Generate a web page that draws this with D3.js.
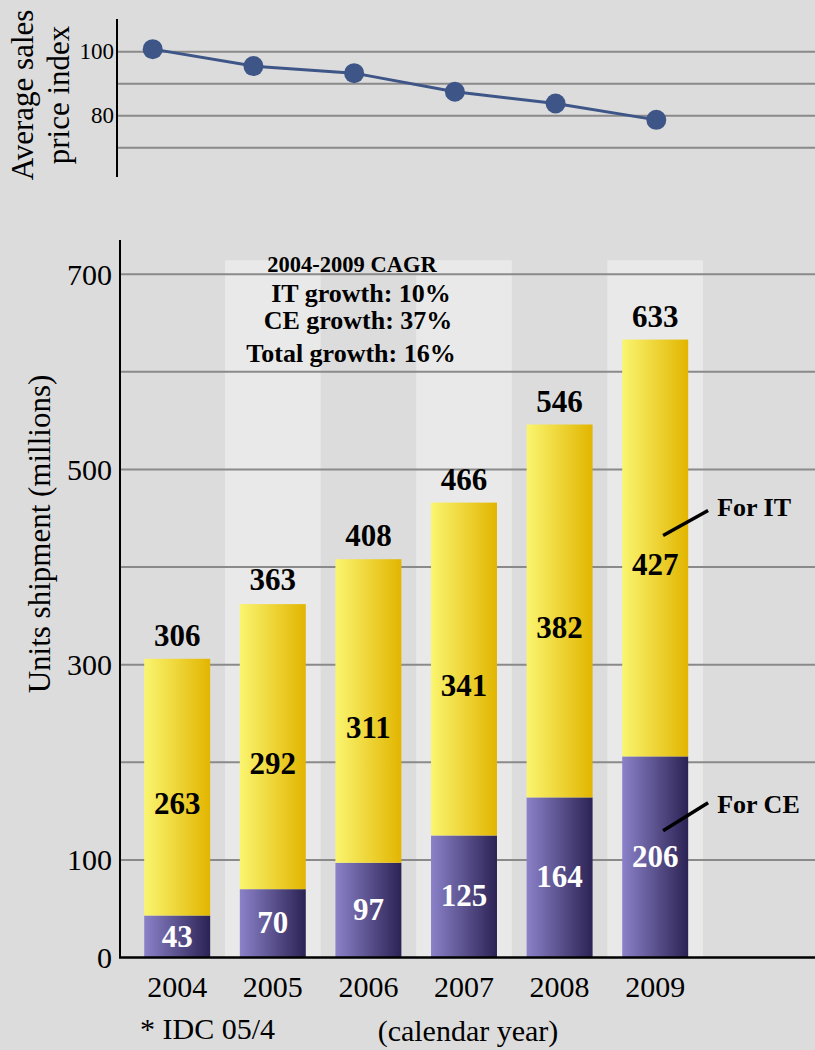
<!DOCTYPE html>
<html>
<head>
<meta charset="utf-8">
<script src="https://cdn.jsdelivr.net/npm/d3@7"></script>
<style>
  html, body { margin: 0; padding: 0; background: #dcdcdc; }
  svg { display: block; }
</style>
</head>
<body>
<svg id="chart" width="815" height="1050"></svg>
<script>
// ---- data ----
const years = ["2004", "2005", "2006", "2007", "2008", "2009"];
const priceIndex = [100.8, 95.5, 93.3, 87.5, 83.8, 78.7];
const ceUnits = [43, 70, 97, 125, 164, 206];
const itUnits = [263, 292, 311, 341, 382, 427];
const totalUnits = [306, 363, 408, 466, 546, 633];
const unitTicks = [0, 100, 300, 500, 700];
const unitGrid = [100, 200, 300, 400, 500, 600, 700];
const priceTicks = [100, 80];
const priceGrid = [100, 90, 80, 70];
const cagrLines = ["2004-2009 CAGR", "IT growth: 10%", "CE growth: 37%", "Total growth: 16%"];

const W = 815;
const serif = "'Liberation Serif', 'Times New Roman', Times, serif";
const svg = d3.select("#chart").style("font-family", serif);

// gradients for the stacked segments
const defs = svg.append("defs");
function hGrad(id, c0, c1) {
  const g = defs.append("linearGradient").attr("id", id)
    .attr("x1", "0%").attr("x2", "100%").attr("y1", "0%").attr("y2", "0%");
  g.append("stop").attr("offset", "0%").attr("stop-color", c0);
  g.append("stop").attr("offset", "100%").attr("stop-color", c1);
}
hGrad("gradIT", "#faf570", "#e2b500");
hGrad("gradCE", "#8b81c9", "#2b2354");

// ================= price index panel =================
const pLeft = 117;
const px = d3.scalePoint().domain(years).range([152.7, 656.3]);
const py = d3.scaleLinear().domain([70, 100]).range([147.7, 51.7]);

svg.append("g").selectAll("line").data(priceGrid).join("line")
  .attr("x1", pLeft).attr("x2", W)
  .attr("y1", d => py(d)).attr("y2", d => py(d))
  .attr("stroke", "#8a8a8a").attr("stroke-width", 2);

svg.append("line").attr("x1", pLeft).attr("x2", pLeft)
  .attr("y1", 19).attr("y2", 177).attr("stroke", "#000").attr("stroke-width", 2);

svg.append("g").selectAll("text").data(priceTicks).join("text")
  .attr("x", pLeft - 3).attr("y", d => py(d)).attr("dy", "0.33em")
  .attr("text-anchor", "end").attr("font-size", 23).text(d => d);

const priceLabel = svg.append("text").attr("text-anchor", "middle")
  .attr("font-size", 31).attr("transform", "translate(0,95) rotate(-90)");
priceLabel.append("tspan").attr("x", 0).attr("y", 33).text("Average sales");
priceLabel.append("tspan").attr("x", 0).attr("y", 69).text("price index");

const priceData = years.map((y, i) => ({ year: y, v: priceIndex[i] }));
svg.append("path").datum(priceData)
  .attr("fill", "none").attr("stroke", "#3e5587").attr("stroke-width", 3)
  .attr("d", d3.line().x(d => px(d.year)).y(d => py(d.v)));
svg.append("g").selectAll("circle").data(priceData).join("circle")
  .attr("cx", d => px(d.year)).attr("cy", d => py(d.v)).attr("r", 10)
  .attr("fill", "#3e5587");

// ================= unit shipment panel =================
const uLeft = 120;
const x = d3.scaleBand().domain(years).range([129.4, 703])
  .paddingInner(0.31).paddingOuter(0.155);
const y = d3.scaleLinear().domain([0, 735]).range([957.5, 240]);
const step = x.step();
const bw = x.bandwidth();

// alternating light column stripes
svg.append("g").selectAll("rect").data(years.filter((d, i) => i % 2 === 1)).join("rect")
  .attr("x", d => x(d) - (step - bw) / 2).attr("width", step)
  .attr("y", y(700) - 14).attr("height", y(0) - y(700) + 14)
  .attr("fill", "#e9e9e9");

svg.append("g").selectAll("line").data(unitGrid).join("line")
  .attr("x1", uLeft).attr("x2", W)
  .attr("y1", d => y(d)).attr("y2", d => y(d))
  .attr("stroke", "#8a8a8a").attr("stroke-width", 2);

// stacked bars
const rows = years.map((yr, i) => ({ year: yr, ce: ceUnits[i], it: itUnits[i], total: totalUnits[i] }));
const stack = d3.stack().keys(["ce", "it"])(rows);
const fills = { ce: "url(#gradCE)", it: "url(#gradIT)" };

svg.append("g").selectAll("g").data(stack).join("g")
  .attr("fill", s => fills[s.key])
  .selectAll("rect").data(s => s).join("rect")
  .attr("x", d => x(d.data.year)).attr("width", bw)
  .attr("y", d => y(d[1])).attr("height", d => y(d[0]) - y(d[1]));

// axes lines
svg.append("line").attr("x1", uLeft).attr("x2", uLeft)
  .attr("y1", 240).attr("y2", y(0)).attr("stroke", "#000").attr("stroke-width", 2);
svg.append("line").attr("x1", uLeft - 1).attr("x2", W)
  .attr("y1", y(0)).attr("y2", y(0)).attr("stroke", "#000").attr("stroke-width", 2.5);

svg.append("g").selectAll("text").data(unitTicks).join("text")
  .attr("x", uLeft - 8).attr("y", d => y(d)).attr("dy", "0.35em")
  .attr("text-anchor", "end").attr("font-size", 30).text(d => d);

svg.append("text").attr("text-anchor", "middle").attr("font-size", 31)
  .attr("transform", `translate(50,534) rotate(-90)`)
  .text("Units shipment (millions)");

svg.append("g").selectAll("text").data(years).join("text")
  .attr("x", d => x(d) + bw / 2).attr("y", 997)
  .attr("text-anchor", "middle").attr("font-size", 30).text(d => d);

svg.append("text").attr("x", 140).attr("y", 1039).attr("font-size", 30).text("* IDC 05/4");
svg.append("text").attr("x", 468).attr("y", 1041).attr("text-anchor", "middle")
  .attr("font-size", 30).text("(calendar year)");

// value labels
const labels = svg.append("g").attr("font-weight", "bold").attr("font-size", 31)
  .attr("text-anchor", "middle");
labels.selectAll("text.total").data(rows).join("text").attr("class", "total")
  .attr("x", d => x(d.year) + bw / 2).attr("y", d => y(d.total) - 13)
  .attr("fill", "#000").text(d => d.total);
labels.selectAll("text.it").data(rows).join("text").attr("class", "it")
  .attr("x", d => x(d.year) + bw / 2).attr("y", d => y(d.ce + d.it / 2) + 27)
  .attr("fill", "#000").text(d => d.it);
labels.selectAll("text.ce").data(rows).join("text").attr("class", "ce")
  .attr("x", d => x(d.year) + bw / 2).attr("y", d => y(d.ce / 2) + 10)
  .attr("fill", "#fff").text(d => d.ce);

// CAGR note
const cagrSizes = [22.5, 26, 26, 26];
const cagrBase = [272, 302, 329, 362];
svg.append("g").attr("font-weight", "bold").attr("text-anchor", "middle")
  .selectAll("text").data(cagrLines).join("text")
  .attr("x", (d, i) => [352, 361, 358, 351][i]).attr("y", (d, i) => cagrBase[i])
  .attr("font-size", (d, i) => cagrSizes[i]).text(d => d);

// series callouts on the last bar
const last = rows[rows.length - 1];
const lx0 = x(last.year) + bw * 0.62;
const callouts = [
  { text: "For IT", v0: last.ce + last.it * 0.53, v1: last.ce + last.it * 0.59, base: 516 },
  { text: "For CE", v0: last.ce * 0.63, v1: last.ce * 0.77, base: 813 }
];
const cg = svg.append("g");
cg.selectAll("line").data(callouts).join("line")
  .attr("x1", lx0).attr("x2", lx0 + 45)
  .attr("y1", d => y(d.v0)).attr("y2", d => y(d.v1))
  .attr("stroke", "#000").attr("stroke-width", 3.5);
cg.selectAll("text").data(callouts).join("text")
  .attr("x", x(last.year) + bw + 29).attr("y", d => d.base)
  .attr("font-weight", "bold").attr("font-size", 26).text(d => d.text);
</script>
</body>
</html>
